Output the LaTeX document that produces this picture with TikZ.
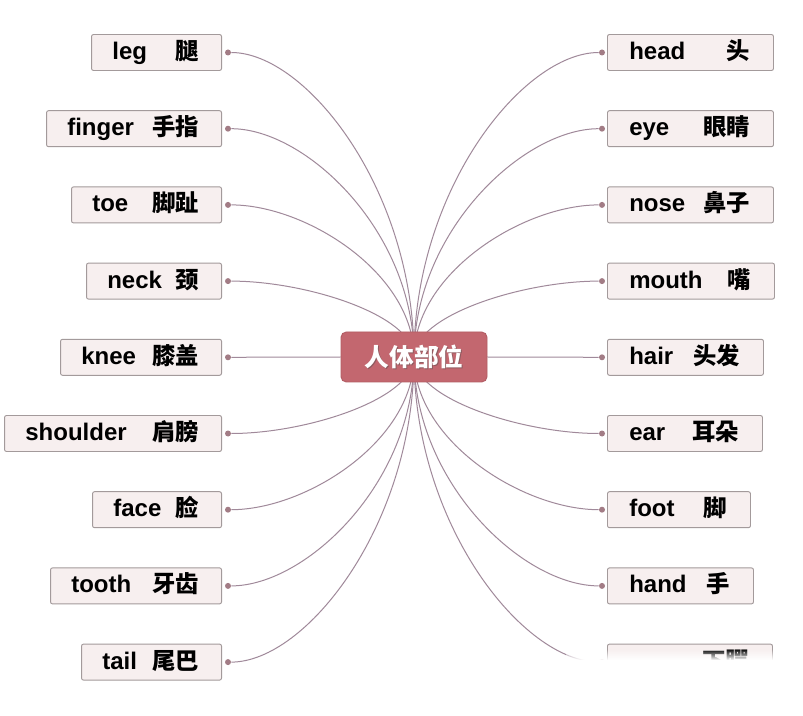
\documentclass[tikz,border=0pt]{standalone}
\usepackage{fontspec}
\setmainfont{Liberation Sans}
\newfontfamily\cjk{Noto Sans CJK SC}
\usetikzlibrary{calc,fadings}
\definecolor{boxfill}{HTML}{F7EFEF}
\definecolor{boxline}{HTML}{A39A9B}
\definecolor{linkc}{HTML}{A0899A}
\definecolor{dotc}{HTML}{A27C85}
\definecolor{hubfill}{HTML}{C3676F}
\definecolor{hubline}{HTML}{B25C63}
\pgfdeclarelayer{bgl}
\pgfdeclarelayer{lines}
\pgfsetlayers{bgl,lines,main}
\tikzset{
  wordbox/.style={draw=boxline, fill=boxfill, line width=0.7pt, rounded corners=1.5pt,
    minimum height=27pt, inner sep=0pt},
  en/.style={font=\fontsize{18}{18}\selectfont\bfseries, inner sep=0pt, text=black},
  zh/.style={font=\cjk\fontsize{17.5}{17.5}\selectfont\bfseries, inner sep=0pt, text=black},
  dot/.style={circle, fill=dotc, inner sep=0pt, minimum size=4.5pt},
  link/.style={draw=linkc, line width=0.75pt},
  hub/.style={fill=hubfill, draw=hubline, line width=0.7pt, rounded corners=4pt,
    minimum width=109.5pt, minimum height=37.5pt, inner sep=0pt}
}
\newcommand\lword[5]{%
  \node[wordbox, minimum width={(222-#2)*0.75pt}, anchor=east] (#1) at (222,#3) {};
  \node[en, anchor=base west] (#1e) at ($(#1.west)+(21,7)$) {#4};
  \node[zh, anchor=base east] (#1z) at ($(#1.east)+(-23,7)$) {#5};
  \node[dot] (#1d) at ($(#1.east)+(6,0)$) {};
}
\newcommand\rword[5]{%
  \node[wordbox, minimum width={(#2-607)*0.75pt}, anchor=west] (#1) at (607,#3) {};
  \node[en, anchor=base west] (#1e) at ($(#1.west)+(22,7)$) {#4};
  \node[zh, anchor=base east] (#1z) at ($(#1.east)+(-24,7)$) {#5};
  \node[dot] (#1d) at ($(#1.west)+(-5,0)$) {};
}
\newcommand\curvelink[1]{%
  \draw[link] (#1) .. controls ($(#1)!0.42!(#1-|hubc)$) and ($(hubc)!0.55!(hubc|-#1)$) .. (hubc);
}
\begin{document}
\begin{tikzpicture}[x=0.75pt,y=-0.75pt]
\begin{pgfonlayer}{bgl}
  \fill[white] (0,0) rectangle (803,716);
\end{pgfonlayer}
\useasboundingbox (0,0) rectangle (803,716);

\node[hub] (hub) at (414,357) {};
\coordinate (hubc) at (hub.center);
\node[font=\cjk\fontsize{18.5}{18.5}\selectfont\bfseries, text=black!70, opacity=0.45, inner sep=0pt]
  (hubshadow) at ($(hub.center)+(1,1)$) {人体部位};
\node[font=\cjk\fontsize{18.5}{18.5}\selectfont\bfseries, text=white, inner sep=0pt]
  (hubtext) at (hub.center) {人体部位};

\lword{leg}{92}{52.5}{leg}{腿}
\lword{finger}{47}{128.7}{finger}{手指}
\lword{toe}{72}{204.9}{toe}{脚趾}
\lword{neck}{87}{281.1}{neck}{颈}
\lword{knee}{61}{357.3}{knee}{膝盖}
\lword{shoulder}{5}{433.5}{shoulder}{肩膀}
\lword{face}{93}{509.7}{face}{脸}
\lword{tooth}{51}{585.9}{tooth}{牙齿}
\lword{tail}{82}{662.1}{tail}{尾巴}

\rword{head}{773}{52.5}{head}{头}
\rword{eye}{773}{128.7}{eye}{眼睛}
\rword{nose}{773}{204.9}{nose}{鼻子}
\rword{mouth}{774}{281.1}{mouth}{嘴}
\rword{hair}{763}{357.3}{hair}{头发}
\rword{ear}{762}{433.5}{ear}{耳朵}
\rword{foot}{750}{509.7}{foot}{脚}
\rword{hand}{753}{585.9}{hand}{手}
\node[wordbox, minimum width={(772-607)*0.75pt}, anchor=west] (jaw) at (607,662.1) {};
\node[zh, anchor=base east] (jawz) at ($(jaw.east)+(-24,7)$) {下腭};
\node[dot] (jawd) at ($(jaw.west)+(-5,0)$) {};

\begin{pgfonlayer}{lines}
  \curvelink{legd}
  \curvelink{fingerd}
  \curvelink{toed}
  \curvelink{neckd}
  \draw[link] (kneed) -- (hub.west);
  \curvelink{shoulderd}
  \curvelink{faced}
  \curvelink{toothd}
  \curvelink{taild}
  \curvelink{headd}
  \curvelink{eyed}
  \curvelink{nosed}
  \curvelink{mouthd}
  \draw[link] (haird) -- (hub.east);
  \curvelink{eard}
  \curvelink{footd}
  \curvelink{handd}
  \curvelink{jawd}
\end{pgfonlayer}

\fill[white, path fading=north] (566,649) rectangle (792,660);
\fill[white] (566,660) rectangle (792,716);
\end{tikzpicture}
\end{document}
